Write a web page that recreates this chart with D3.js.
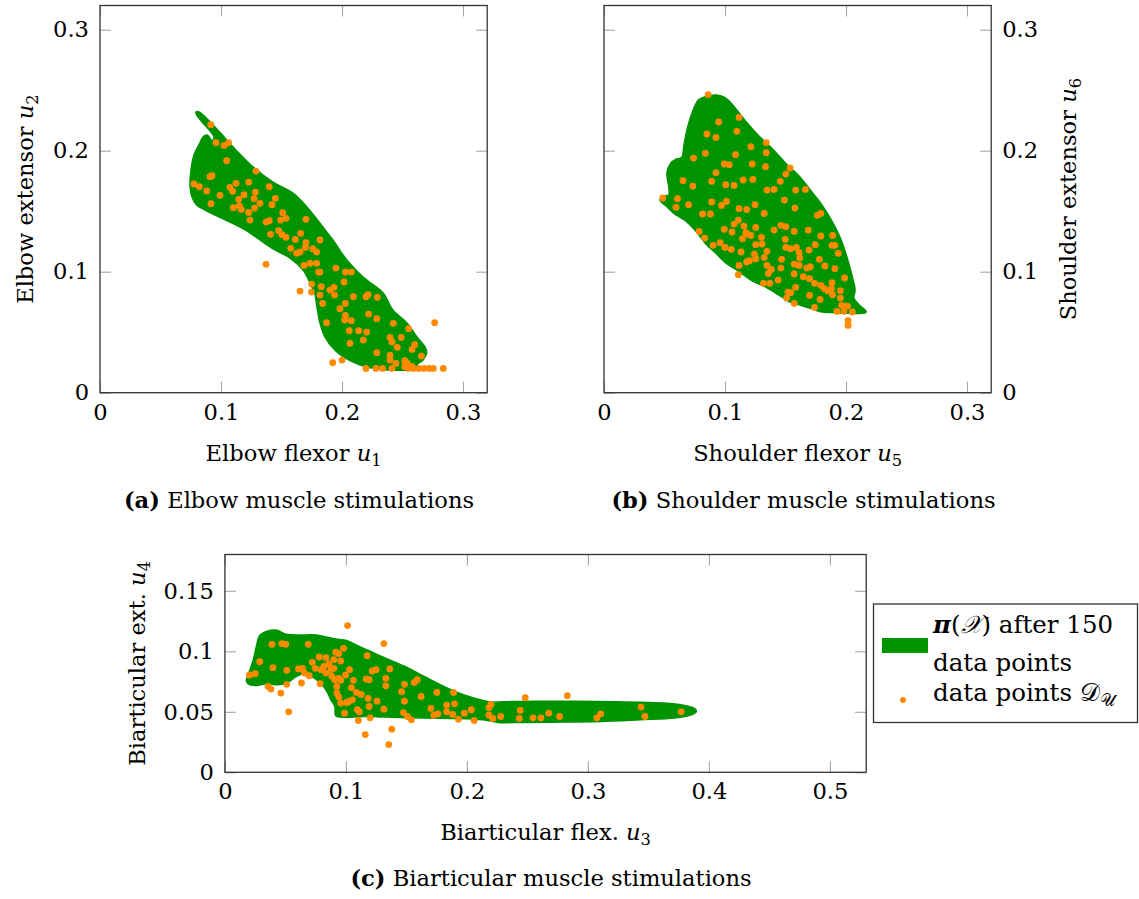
<!DOCTYPE html>
<html>
<head>
<meta charset="utf-8">
<script src="https://cdn.jsdelivr.net/npm/d3@7"></script>
<style>
body { margin: 0; background: #fff; }
text { font-family: "DejaVu Serif", serif; fill: #000; }
</style>
</head>
<body>
<svg id="chart" width="1139" height="899"></svg>
<script>
// ---- data ----

// (a) elbow: outline of pi(X) and the sampled points [u1, u2]
const regionA = [[0.0793,0.232],[0.0818,0.232],[0.095,0.2196],[0.110,0.203],[0.1264,0.1866],[0.143,0.174],[0.1595,0.165],[0.171,0.1535],[0.1818,0.140],[0.1926,0.126],[0.204,0.1097],[0.2174,0.0956],[0.234,0.0824],[0.242,0.0683],[0.2537,0.0576],[0.262,0.046],[0.2686,0.0378],[0.270,0.0328],[0.267,0.027],[0.262,0.0229],[0.264,0.0205],[0.2645,0.0192],[0.248,0.0186],[0.2314,0.0194],[0.215,0.0229],[0.2025,0.0287],[0.194,0.0353],[0.186,0.046],[0.1818,0.0576],[0.1793,0.0708],[0.1777,0.0807],[0.1736,0.0907],[0.1678,0.1014],[0.157,0.1113],[0.1446,0.118],[0.1322,0.1262],[0.120,0.1345],[0.1074,0.141],[0.095,0.1468],[0.0868,0.151],[0.080,0.155],[0.076,0.1617],[0.0744,0.1716],[0.0752,0.184],[0.0777,0.1965],[0.0826,0.2064],[0.0851,0.2113],[0.0884,0.213],[0.0909,0.2105],[0.0926,0.208],[0.0942,0.2113],[0.0802,0.2289]];
const pointsA = [[0.0915,0.2215],[0.0959,0.2066],[0.1025,0.2044],[0.1063,0.2066],[0.1047,0.1917],[0.0909,0.1785],[0.0926,0.1793],[0.0777,0.1725],[0.0821,0.1702],[0.0882,0.1667],[0.0917,0.1562],[0.0992,0.1631],[0.1074,0.1697],[0.1124,0.173],[0.1096,0.1664],[0.1102,0.1529],[0.1146,0.1598],[0.119,0.1636],[0.1229,0.1741],[0.1289,0.1832],[0.1284,0.1658],[0.1273,0.1603],[0.1152,0.1543],[0.1168,0.1515],[0.1229,0.149],[0.124,0.1427],[0.1278,0.1526],[0.1322,0.1565],[0.1399,0.1702],[0.1449,0.1606],[0.1421,0.1554],[0.1372,0.141],[0.1399,0.1421],[0.141,0.1309],[0.1477,0.1339],[0.1504,0.1306],[0.1537,0.1284],[0.151,0.1488],[0.1537,0.1441],[0.1493,0.1427],[0.1702,0.1433],[0.1614,0.1267],[0.1658,0.1317],[0.1576,0.1193],[0.1625,0.1152],[0.1653,0.1163],[0.1697,0.1201],[0.1702,0.124],[0.1758,0.119],[0.1818,0.1262],[0.179,0.1163],[0.1686,0.1052],[0.1736,0.1069],[0.179,0.1069],[0.1807,0.0997],[0.1818,0.0997],[0.1372,0.1061],[0.1749,0.0898],[0.1653,0.084],[0.1829,0.0876],[0.1818,0.0807],[0.184,0.0738],[0.1901,0.0848],[0.1934,0.0871],[0.1950,0.103],[0.2028,0.0997],[0.2077,0.0997],[0.2017,0.0915],[0.1939,0.0807],[0.2094,0.0793],[0.2028,0.0738],[0.1983,0.0694],[0.2028,0.0639],[0.2022,0.0601],[0.2077,0.0595],[0.1873,0.0579],[0.206,0.0512],[0.2138,0.0512],[0.2204,0.0501],[0.2176,0.0435],[0.2066,0.0408],[0.2198,0.0793],[0.2215,0.081],[0.2292,0.0788],[0.2220,0.065],[0.2287,0.0612],[0.2424,0.0573],[0.2551,0.0529],[0.2397,0.0457],[0.2413,0.0419],[0.249,0.0457],[0.2457,0.0375],[0.2287,0.0331],[0.2601,0.0397],[0.2579,0.0358],[0.2656,0.0303],[0.2766,0.0579],[0.1923,0.0248],[0.2,0.027],[0.2198,0.0201],[0.2281,0.0201],[0.2336,0.0201],[0.2413,0.0201],[0.2397,0.027],[0.2446,0.0242],[0.2518,0.0264],[0.254,0.0242],[0.2518,0.0215],[0.2551,0.0201],[0.259,0.0201],[0.2634,0.0201],[0.2678,0.0201],[0.2722,0.0201],[0.2755,0.0201],[0.2837,0.0201],[0.2579,0.0215],[0.2397,0.0309],[0.1747,0.0832]];

// (b) shoulder: [u5, u6]
const regionB = [[0.0838,0.2446],[0.0925,0.246],[0.0997,0.2441],[0.104,0.2405],[0.1098,0.2336],[0.1185,0.2226],[0.1272,0.213],[0.1387,0.202],[0.1503,0.1895],[0.1618,0.1785],[0.1705,0.1675],[0.1792,0.1565],[0.1879,0.1427],[0.1936,0.1317],[0.198,0.1207],[0.2023,0.1069],[0.2052,0.0959],[0.2075,0.0848],[0.2066,0.078],[0.211,0.0725],[0.2168,0.0669],[0.2139,0.0656],[0.2023,0.0656],[0.1908,0.0661],[0.1792,0.0669],[0.1705,0.0697],[0.1618,0.0725],[0.1532,0.0752],[0.1445,0.0807],[0.1329,0.0876],[0.1214,0.0931],[0.1098,0.1014],[0.1012,0.1069],[0.0925,0.1152],[0.0838,0.1234],[0.0751,0.1344],[0.0665,0.1427],[0.0578,0.1482],[0.052,0.1537],[0.0462,0.1592],[0.0491,0.1625],[0.0535,0.1634],[0.0535,0.1702],[0.052,0.1813],[0.0549,0.1895],[0.0592,0.1928],[0.0642,0.1945],[0.0659,0.2033],[0.0679,0.2143],[0.0708,0.2253],[0.0737,0.2336],[0.078,0.2419]];
const pointsB = [[0.0861,0.2463],[0.1116,0.2275],[0.0948,0.2237],[0.1098,0.216],[0.085,0.2138],[0.0925,0.211],[0.1341,0.2066],[0.1214,0.2033],[0.0838,0.1978],[0.074,0.1939],[0.1087,0.1967],[0.1341,0.1983],[0.0994,0.189],[0.1035,0.1884],[0.1225,0.189],[0.1335,0.1868],[0.1538,0.1857],[0.0925,0.1818],[0.1503,0.1807],[0.0653,0.1752],[0.089,0.1747],[0.115,0.1758],[0.1231,0.1763],[0.1457,0.1747],[0.0734,0.1708],[0.1006,0.1719],[0.1075,0.1713],[0.1347,0.1675],[0.1405,0.168],[0.1584,0.1675],[0.1665,0.168],[0.0486,0.1609],[0.0607,0.1603],[0.0595,0.1532],[0.0699,0.1554],[0.089,0.1576],[0.0971,0.1548],[0.1012,0.1581],[0.1491,0.1592],[0.1116,0.1521],[0.1179,0.1515],[0.1248,0.1554],[0.0815,0.1477],[0.0879,0.1477],[0.1324,0.1482],[0.1578,0.1526],[0.1763,0.1466],[0.1792,0.1482],[0.1110,0.1427],[0.1075,0.1394],[0.1156,0.1377],[0.1254,0.1366],[0.0994,0.135],[0.1058,0.1328],[0.0786,0.1333],[0.1173,0.1322],[0.1214,0.13],[0.1196,0.1306],[0.1405,0.1344],[0.1462,0.1383],[0.1503,0.1372],[0.1572,0.1333],[0.1688,0.1344],[0.0832,0.1278],[0.1144,0.1273],[0.1301,0.1284],[0.1497,0.1267],[0.1792,0.1295],[0.189,0.13],[0.0902,0.1218],[0.0960,0.124],[0.1254,0.1223],[0.1306,0.1229],[0.1000,0.1201],[0.1052,0.1185],[0.1503,0.1201],[0.1543,0.119],[0.1590,0.1201],[0.1746,0.1223],[0.1884,0.1218],[0.1908,0.1218],[0.1133,0.1163],[0.1243,0.1146],[0.1347,0.1168],[0.1613,0.1157],[0.1694,0.1179],[0.1936,0.1152],[0.1254,0.1107],[0.1179,0.108],[0.1202,0.1091],[0.1324,0.1118],[0.1468,0.1102],[0.1618,0.1113],[0.1780,0.1102],[0.1572,0.1063],[0.1613,0.1052],[0.1116,0.1052],[0.1347,0.1052],[0.1382,0.1019],[0.1462,0.103],[0.1676,0.103],[0.1705,0.1041],[0.1826,0.1047],[0.1908,0.1025],[0.111,0.0975],[0.1358,0.0986],[0.1572,0.0981],[0.1647,0.0959],[0.1699,0.0942],[0.1988,0.0948],[0.1439,0.0931],[0.1318,0.0904],[0.1370,0.0904],[0.1740,0.0904],[0.1792,0.0887],[0.1884,0.0909],[0.1821,0.0860],[0.1850,0.0843],[0.1584,0.0871],[0.1520,0.0832],[0.1543,0.0826],[0.1954,0.0843],[0.1699,0.0804],[0.1890,0.081],[0.1509,0.0782],[0.1786,0.0771],[0.1572,0.0738],[0.1740,0.0705],[0.1954,0.0782],[0.1965,0.0722],[0.2012,0.0716],[0.1925,0.0672],[0.1983,0.0672],[0.2052,0.0667],[0.2017,0.0595],[0.2017,0.0556],[0.1879,0.086]];

// (c) biarticular: [u3, u4]
const regionC = [[0.0187,0.0793],[0.0207,0.0848],[0.0235,0.0931],[0.026,0.1041],[0.0288,0.113],[0.0349,0.1166],[0.043,0.1174],[0.0491,0.1146],[0.0592,0.1135],[0.0754,0.1135],[0.0835,0.1119],[0.0916,0.1102],[0.0998,0.1091],[0.1079,0.1055],[0.12,0.1],[0.1322,0.0945],[0.1484,0.0876],[0.1646,0.0793],[0.1809,0.071],[0.1971,0.0641],[0.2133,0.0594],[0.2214,0.058],[0.2376,0.0586],[0.262,0.0588],[0.2903,0.0588],[0.3228,0.0583],[0.3512,0.0577],[0.3755,0.0561],[0.3877,0.053],[0.3897,0.0503],[0.3856,0.0475],[0.3714,0.0448],[0.3431,0.0434],[0.3106,0.042],[0.2701,0.0414],[0.2457,0.0412],[0.2255,0.0412],[0.2214,0.042],[0.2133,0.0434],[0.189,0.0445],[0.1646,0.0448],[0.1322,0.0456],[0.116,0.0461],[0.0957,0.0456],[0.0916,0.0467],[0.0908,0.0544],[0.0876,0.0599],[0.0835,0.0682],[0.0775,0.0751],[0.0714,0.0793],[0.0653,0.0815],[0.0592,0.0793],[0.0511,0.0738],[0.043,0.0724],[0.0349,0.0732],[0.0268,0.0718],[0.0207,0.0724],[0.0178,0.0751]];
const pointsC = [[0.0203,0.0804],[0.0251,0.0815],[0.0288,0.0914],[0.0357,0.071],[0.0381,0.0688],[0.0397,0.0865],[0.0389,0.1058],[0.047,0.1064],[0.0503,0.1058],[0.0462,0.0655],[0.0511,0.0843],[0.0511,0.0727],[0.0527,0.05],[0.0608,0.0854],[0.0641,0.0859],[0.0633,0.0738],[0.0657,0.082],[0.0689,0.1058],[0.0697,0.0798],[0.0722,0.0909],[0.0746,0.0859],[0.0779,0.0953],[0.0787,0.0732],[0.0795,0.0848],[0.0819,0.0876],[0.0835,0.082],[0.086,0.0898],[0.0876,0.0848],[0.0884,0.0793],[0.09,0.0931],[0.0916,0.0992],[0.0941,0.0981],[0.0957,0.092],[0.0981,0.1025],[0.09,0.0859],[0.0908,0.0765],[0.0925,0.071],[0.0925,0.0655],[0.0941,0.0622],[0.0957,0.0572],[0.0941,0.0776],[0.0957,0.076],[0.0998,0.0804],[0.1014,0.1213],[0.103,0.0848],[0.1006,0.0577],[0.1054,0.0599],[0.0989,0.0489],[0.1062,0.076],[0.1087,0.066],[0.1127,0.0644],[0.1095,0.0517],[0.1103,0.0428],[0.1111,0.05],[0.1168,0.0771],[0.1176,0.0964],[0.1192,0.0765],[0.1184,0.061],[0.1192,0.0544],[0.12,0.045],[0.116,0.0312],[0.1217,0.0837],[0.1249,0.0848],[0.1257,0.0588],[0.1314,0.1064],[0.133,0.0776],[0.133,0.0715],[0.1314,0.0522],[0.1363,0.0854],[0.1379,0.0356],[0.1354,0.0229],[0.1460,0.0666],[0.1484,0.0727],[0.1484,0.0588],[0.1476,0.0494],[0.1509,0.0461],[0.1541,0.0434],[0.1565,0.0743],[0.159,0.0765],[0.1622,0.0627],[0.1703,0.0528],[0.1727,0.0472],[0.1752,0.066],[0.176,0.0483],[0.1833,0.0555],[0.1833,0.05],[0.189,0.066],[0.1898,0.0566],[0.1882,0.0478],[0.193,0.0439],[0.1979,0.0489],[0.2036,0.0517],[0.206,0.0428],[0.2182,0.0533],[0.2198,0.0561],[0.2182,0.0472],[0.2214,0.0445],[0.2279,0.0461],[0.2441,0.0511],[0.2433,0.0445],[0.2482,0.0616],[0.2547,0.045],[0.2612,0.045],[0.2676,0.0489],[0.2766,0.0461],[0.2830,0.0633],[0.3074,0.045],[0.3106,0.0483],[0.3439,0.0539],[0.3471,0.0461],[0.3771,0.05],[0.1022,0.0583],[0.1046,0.0699],[0.0835,0.0948]];

const ticksA = [0, 0.1, 0.2, 0.3];
const ticksCx = [0, 0.1, 0.2, 0.3, 0.4, 0.5];
const ticksCy = [0, 0.05, 0.1, 0.15];

const legendLabels = ["after 150", "data points", "data points "];

// ---- style ----
const green = "#009300";
const orange = "#ff8a00";
const fontSize = 22.6;
const legendFontSize = 24.5;
const tickLen = 11;
const pxPerUnit = 1210;

const svg = d3.select("#chart");

const fmt = d => d === 0 ? "0" : String(d);

// text with an italic math symbol and subscript
const mathLabel = (sel, plain, sym, sub) =>
{
    sel.append("tspan").text(plain);
    sel.append("tspan").attr("font-style", "italic").text(sym);
    sel.append("tspan").attr("font-size", fontSize * 0.72).attr("dy", 5).text(sub);
}

const drawPanel = (cfg) =>
{
    const x = d3.scaleLinear().domain(cfg.xDomain)
        .range([cfg.left, cfg.left + (cfg.xDomain[1] - cfg.xDomain[0]) * pxPerUnit]);
    const y = d3.scaleLinear().domain(cfg.yDomain)
        .range([cfg.bottom, cfg.bottom - (cfg.yDomain[1] - cfg.yDomain[0]) * pxPerUnit]);
    const [x0, x1] = x.range();
    const [y0, y1] = y.range();
    const g = svg.append("g");

    g.append("path")
        .datum(cfg.region)
        .attr("d", d3.line().x(d => x(d[0])).y(d => y(d[1])).curve(d3.curveCatmullRomClosed.alpha(0.5)))
        .attr("fill", green)
        .attr("stroke", green)
        .attr("stroke-width", 1.5);

    g.append("g").selectAll("circle")
        .data(cfg.points)
        .join("circle")
        .attr("cx", d => x(d[0]))
        .attr("cy", d => y(d[1]))
        .attr("r", 3.4)
        .attr("fill", orange);

    // inward ticks on all four sides
    const axes = [
        [d3.axisBottom(x).tickValues(cfg.xTicks), `translate(0,${y0})`, true],
        [d3.axisTop(x).tickValues(cfg.xTicks), `translate(0,${y1})`, false],
        [d3.axisLeft(y).tickValues(cfg.yTicks), `translate(${x0},0)`, !cfg.yRight],
        [d3.axisRight(y).tickValues(cfg.yTicks), `translate(${x1},0)`, cfg.yRight],
    ];
    for (const [axis, tr, labels] of axes)
    {
        const a = g.append("g").attr("transform", tr)
            .call(axis.tickSizeInner(-tickLen).tickSizeOuter(0).tickPadding(11)
                .tickFormat(labels ? fmt : ""));
        a.select(".domain").remove();
        a.selectAll(".tick line").attr("stroke", "#a6a6a6").attr("stroke-width", 1.1);
        a.selectAll(".tick text")
            .attr("font-size", fontSize)
            .attr("fill", "#000");
    }

    g.append("rect")
        .attr("x", x0).attr("y", y1)
        .attr("width", x1 - x0).attr("height", y0 - y1)
        .attr("fill", "none")
        .attr("stroke", "#333")
        .attr("stroke-width", 1.3);

    g.append("text")
        .attr("x", (x0 + x1) / 2).attr("y", y0 + 68)
        .attr("text-anchor", "middle")
        .attr("font-size", fontSize)
        .call(mathLabel, cfg.xLabel[0], "u", cfg.xLabel[1]);

    g.append("text")
        .attr("transform", `translate(${cfg.yLabelX},${(y0 + y1) / 2}) rotate(-90)`)
        .attr("text-anchor", "middle")
        .attr("font-size", fontSize)
        .call(mathLabel, cfg.yLabel[0], "u", cfg.yLabel[1]);

    const cap = g.append("text")
        .attr("x", cfg.capX).attr("y", cfg.capY)
        .attr("text-anchor", "middle")
        .attr("font-size", fontSize);
    cap.append("tspan").attr("font-weight", "bold").text(`(${cfg.tag})`);
    cap.append("tspan").text(" " + cfg.caption);
}

drawPanel({
    region: regionA, points: pointsA,
    xDomain: [0, 0.32], yDomain: [0, 0.32], xTicks: ticksA, yTicks: ticksA,
    left: 100, bottom: 392.7, yRight: false,
    xLabel: ["Elbow flexor ", "1"], yLabel: ["Elbow extensor ", "2"], yLabelX: 32.5,
    tag: "a", caption: "Elbow muscle stimulations", capX: 299, capY: 508,
});

drawPanel({
    region: regionB, points: pointsB,
    xDomain: [0, 0.32], yDomain: [0, 0.32], xTicks: ticksA, yTicks: ticksA,
    left: 604, bottom: 392.7, yRight: true,
    xLabel: ["Shoulder flexor ", "5"], yLabel: ["Shoulder extensor ", "6"], yLabelX: 1076,
    tag: "b", caption: "Shoulder muscle stimulations", capX: 803.5, capY: 508,
});

drawPanel({
    region: regionC, points: pointsC,
    xDomain: [0, 0.53], yDomain: [0, 0.18], xTicks: ticksCx, yTicks: ticksCy,
    left: 224.9, bottom: 772.3, yRight: false,
    xLabel: ["Biarticular flex. ", "3"], yLabel: ["Biarticular ext. ", "4"], yLabelX: 145,
    tag: "c", caption: "Biarticular muscle stimulations", capX: 551, capY: 886,
});

// ---- legend ----
const legend = svg.append("g");
legend.append("rect")
    .attr("x", 873.5).attr("y", 604)
    .attr("width", 264).attr("height", 118.5)
    .attr("fill", "#fff")
    .attr("stroke", "#333")
    .attr("stroke-width", 1.3);
legend.append("rect")
    .attr("x", 882).attr("y", 638)
    .attr("width", 46).attr("height", 15)
    .attr("fill", green);
legend.append("circle")
    .attr("cx", 903).attr("cy", 700).attr("r", 3)
    .attr("fill", orange);

const l1 = legend.append("text").attr("x", 933).attr("y", 633).attr("font-size", legendFontSize);
l1.append("tspan").attr("font-weight", "bold").attr("font-style", "italic").text("π");
l1.append("tspan").text("(");
l1.append("tspan").attr("font-style", "italic").text("𝒳");
l1.append("tspan").text(") " + legendLabels[0]);

legend.append("text").attr("x", 933).attr("y", 671).attr("font-size", legendFontSize).text(legendLabels[1]);

const l3 = legend.append("text").attr("x", 933).attr("y", 701).attr("font-size", legendFontSize);
l3.append("tspan").text(legendLabels[2]);
l3.append("tspan").text("𝒟");
l3.append("tspan").attr("font-size", legendFontSize * 0.7).attr("dy", 5).text("𝒰");
</script>
</body>
</html>
